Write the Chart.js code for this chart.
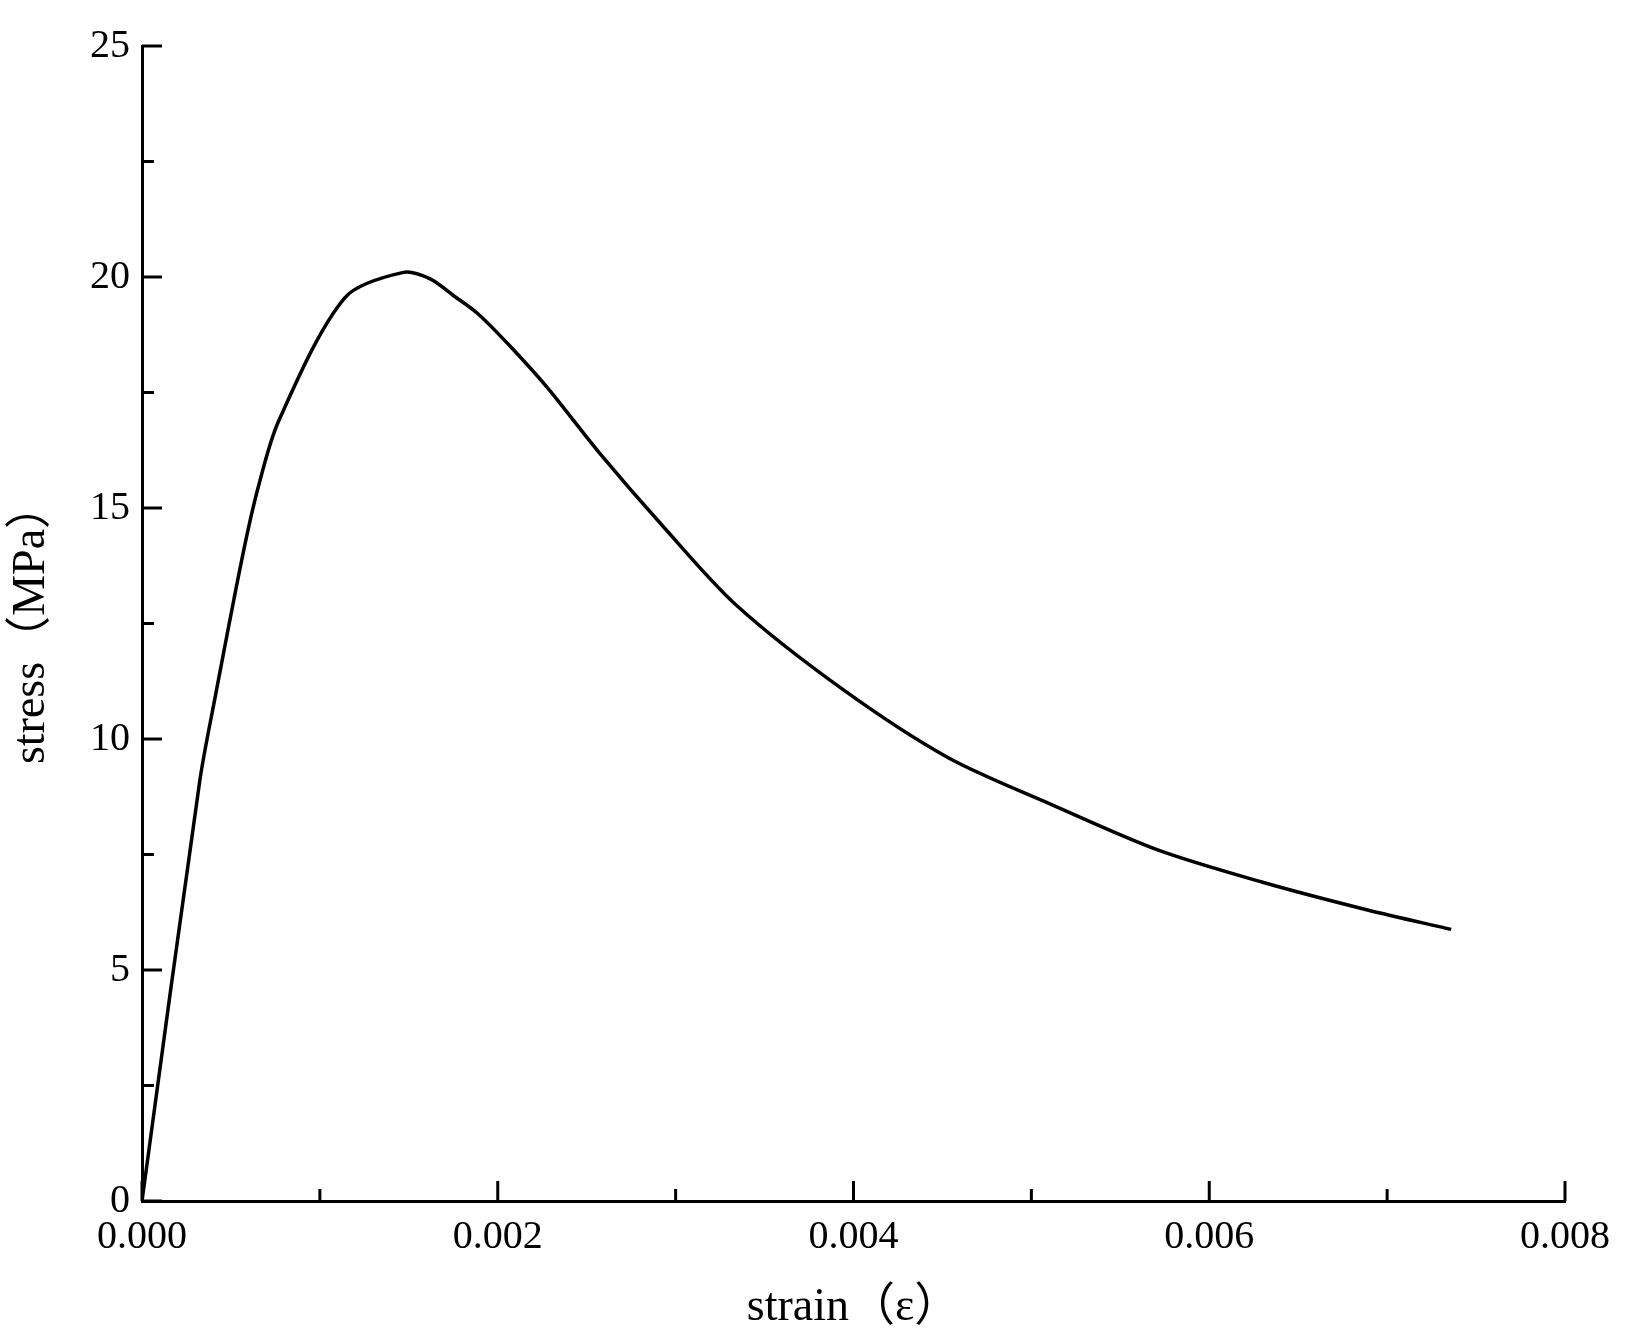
<!DOCTYPE html>
<html>
<head>
<meta charset="utf-8">
<script src="https://cdn.jsdelivr.net/npm/chart.js@4"></script>
<style>
  body { margin: 0; background: #fff; }
  #wrap { width: 1642px; height: 1340px; }
</style>
</head>
<body>
<div id="wrap"><canvas id="chart"></canvas></div>
<script>
const strain = [0, 0.000325, 0.000414, 0.000562, 0.00065, 0.00077, 0.00114, 0.00147, 0.00162, 0.00175, 0.00189, 0.00207, 0.00228, 0.00257, 0.00293, 0.00334, 0.00393, 0.00453, 0.00512, 0.00571, 0.0063, 0.00689, 0.00736];
const stress = [0, 9.1, 10.96, 13.9, 15.4, 16.9, 19.55, 20.1, 19.96, 19.6, 19.2, 18.5, 17.6, 16.2, 14.6, 12.9, 11.1, 9.6, 8.57, 7.6, 6.9, 6.3, 5.88];
const xTitle = "strain（ε）";
const yTitle = "stress（MPa）";
const fontFam = "'Liberation Serif', 'Noto Sans CJK SC', serif";

// ticks drawn inward, like the original plotting software
const inwardTicks = {
  id: "inwardTicks",
  afterDraw(chart) {
    const { ctx, chartArea: a, scales: { x, y } } = chart;
    ctx.save();
    ctx.strokeStyle = "#000";
    ctx.lineWidth = 3;
    x.ticks.forEach(t => {
      const px = x.getPixelForValue(t.value);
      const len = Math.abs(t.value / 0.002 - Math.round(t.value / 0.002)) < 1e-6 ? 20 : 12;
      ctx.beginPath(); ctx.moveTo(px, a.bottom); ctx.lineTo(px, a.bottom - len); ctx.stroke();
    });
    y.ticks.forEach(t => {
      const py = y.getPixelForValue(t.value);
      const len = t.value % 5 === 0 ? 20 : 12;
      ctx.beginPath(); ctx.moveTo(a.left, py); ctx.lineTo(a.left + len, py); ctx.stroke();
    });
    ctx.restore();
  }
};

new Chart(document.getElementById("chart"), {
  type: "line",
  data: {
    datasets: [{
      data: strain.map((v, i) => ({ x: v, y: stress[i] })),
      borderColor: "#000",
      borderWidth: 3.5,
      pointRadius: 0,
      tension: 0.3,
      fill: false
    }]
  },
  options: {
    responsive: true,
    maintainAspectRatio: false,
    animation: false,
    layout: { padding: { top: 46, right: 77, left: 0, bottom: 0 } },
    plugins: { legend: { display: false }, tooltip: { enabled: false } },
    scales: {
      x: {
        type: "linear", min: 0, max: 0.008,
        afterFit(s) { s.height = 139; },
        grid: { display: false, drawTicks: false },
        border: { color: "#000", width: 3 },
        ticks: {
          stepSize: 0.001, color: "#000", padding: 12, maxRotation: 0,
          font: { family: fontFam, size: 40 },
          callback: v => Math.abs(v / 0.002 - Math.round(v / 0.002)) < 1e-6 ? v.toFixed(3) : ""
        },
        title: { display: true, text: xTitle, color: "#000", padding: { top: 0 }, font: { family: fontFam, size: 46 } }
      },
      y: {
        min: 0, max: 25,
        afterFit(s) { s.width = 142; },
        grid: { display: false, drawTicks: false },
        border: { color: "#000", width: 3 },
        ticks: {
          stepSize: 2.5, color: "#000", padding: 12,
          font: { family: fontFam, size: 40 },
          callback: v => v % 5 === 0 ? v : ""
        },
        title: { display: true, text: yTitle, color: "#000", padding: { bottom: 2 }, font: { family: fontFam, size: 46 } }
      }
    }
  },
  plugins: [inwardTicks]
});
</script>
</body>
</html>
